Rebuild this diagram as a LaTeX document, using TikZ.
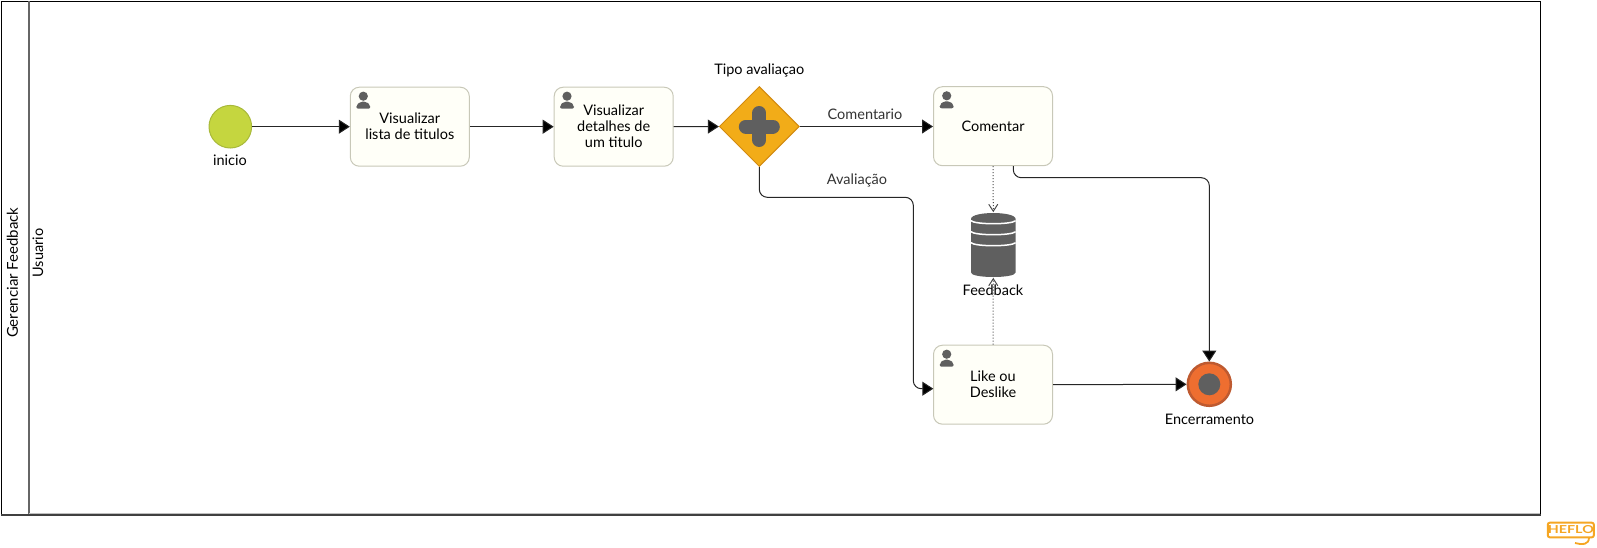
\documentclass[tikz,border=0pt]{standalone}
\usepackage{fontspec}
\setmainfont{Lato}
\usetikzlibrary{arrows.meta, shapes.geometric, calc}
\definecolor{iconGray}{HTML}{5F5F5F}
\definecolor{taskFill}{HTML}{FFFFF8}
\definecolor{taskLine}{HTML}{C8C8B8}
\definecolor{startFill}{HTML}{C5D63F}
\definecolor{startLine}{HTML}{A8B93A}
\definecolor{gateFill}{HTML}{F2AC18}
\definecolor{gateLine}{HTML}{D28A10}
\definecolor{endFill}{HTML}{EE6E30}
\definecolor{endLine}{HTML}{BE5A30}
\definecolor{heflo}{HTML}{F5A623}
\tikzset{
	txt/.style={font=\fontsize{14.5}{16}\selectfont, align=center, inner sep=0pt},
	task/.style={txt, draw=taskLine, fill=taskFill, rounded corners=9, line width=1, minimum width=119, minimum height=79},
	flow/.style={draw=black!85, line width=1, -{Triangle[length=11, width=14, fill=black]}},
	assoc/.style={draw=black!70, line width=1, dotted, -{Straight Barb[length=7, width=9, sep=0pt]}},
	person/.pic={
		\fill[iconGray] (0,-12.5) circle (4.6);
		\fill[iconGray, rounded corners=2] (-7,0) -- (-7,-3.5) -- (-3,-7) -- (3,-7) -- (7,-3.5) -- (7,0) -- cycle;
	}
}
\begin{document}
\begin{tikzpicture}[x=1pt, y=-1pt, line width=1pt]
	\useasboundingbox (0,0) rectangle (1597,547);
	% pool and lane
	\draw[black, line width=1] (1,1) rectangle (1540.5,515);
	\draw[black!60, line width=2] (28.5,1) -- (28.5,514);
	\draw[black!25, line width=1.5] (28.5,513.5) -- (1540,513.5);
	\draw[black!75, line width=1.5] (1,515) -- (1541,515);
	\node[txt, rotate=90, font=\fontsize{15}{16}\selectfont] (pool) at (12.5,272.7) {Gerenciar Feedback};
	\node[txt, rotate=90] (lane) at (38,253) {Usuario};

	% events, tasks and gateway
	\node[circle, draw=startLine, fill=startFill, minimum size=42.6, inner sep=0pt] (inicio) at (230.3,126.7) {};
	\node[task] (lista) at (409.8,126.7) {Visualizar\\lista de titulos};
	\node[task] (detalhes) at (613.7,126.7) {Visualizar\\detalhes de\\um titulo};
	\node[diamond, draw=gateLine, fill=gateFill, minimum width=80, minimum height=80, inner sep=0pt, line width=1] (gate) at (759.3,126.5) {};
	\node[task] (comentar) at (993,126.2) {Comentar};
	\node[task] (like) at (993,384.7) {Like ou\\Deslike};
	\node[circle, draw=endLine, fill=endFill, minimum size=43, inner sep=0pt, line width=2.5] (fim) at (1209.3,384.3) {};
	\node[minimum width=44.7, minimum height=64.6, inner sep=0pt] (banco) at (993.3,245) {};

	% icons inside the nodes
	\pic at (363.3,108.7) {person};
	\pic at (567,108.7) {person};
	\pic at (946.7,108.3) {person};
	\pic at (946.7,366.7) {person};
	\fill[iconGray] (fim) circle (11);
	\draw[iconGray, line width=14, line cap=round] ($(gate)+(-13.5,0)$) -- ($(gate)+(13.5,0)$);
	\draw[iconGray, line width=14, line cap=round] ($(gate)+(0,-13.5)$) -- ($(gate)+(0,13.5)$);

	% data store
	\fill[iconGray] (971,219) .. controls (971,211) and (1015.6,211) .. (1015.6,219) -- (1015.6,272.5) .. controls (1015.6,278.5) and (971,278.5) .. (971,272.5) -- cycle;
	\foreach \yy in {220.7,231.7,242.7}
		\draw[white, line width=1.5] (971,\yy) .. controls (975,\yy+4) and (1011.6,\yy+4) .. (1015.6,\yy);

	% connectors
	\coordinate (avaA) at (913.3,197.3);
	\coordinate (avaB) at (913.3,388.7);
	\coordinate (likeIn) at (933.3,388.7);
	\coordinate (comOut) at (1013.3,166);
	\coordinate (comA) at (1013.3,177.7);
	\coordinate (comB) at (1209.3,177.7);
	\draw[flow] (inicio) -- (lista);
	\draw[flow] (lista) -- (detalhes);
	\draw[flow] (detalhes) -- (gate);
	\draw[flow] (gate.east) -- (gate.east -| comentar.west);
	\draw[flow, rounded corners=8] (gate.south) |- (avaA) -- (avaB) -- (likeIn);
	\draw[flow, rounded corners=8] (comOut) -- (comA) -- (comB) -- (fim.north);
	\draw[flow] (like.east) -- (fim.west);
	\draw[assoc] (comentar.south) -- (banco.north);
	\draw[assoc] (like.north) -- (banco.south);

	% labels
	\node[txt] (lblinicio) at (230,160) {inicio};
	\node[txt] (lbltipo) at (759.3,70) {Tipo avaliaçao};
	\node[txt, text=black!80] (lblcom) at (865,114.7) {Comentario};
	\node[txt, text=black!80] (lblava) at (857,180) {Avaliação};
	\node[txt] (lblfeed) at (993,290) {Feedback};
	\node[txt] (lblfim) at (1209.5,419) {Encerramento};

	% logo
	\node[draw=heflo, line width=2, rounded corners=2, minimum width=46, minimum height=14.6, inner sep=0pt] (logo) at (1570.8,530) {};
	\node[inner sep=0pt, text=heflo, xscale=1.3, font=\fontsize{11}{11}\selectfont\bfseries] (logotxt) at (logo) {HEFLO};
	\draw[heflo, line width=1.8] (1589,537.5) .. controls (1589,545) and (1582,545) .. (1575,543);
\end{tikzpicture}
\end{document}
